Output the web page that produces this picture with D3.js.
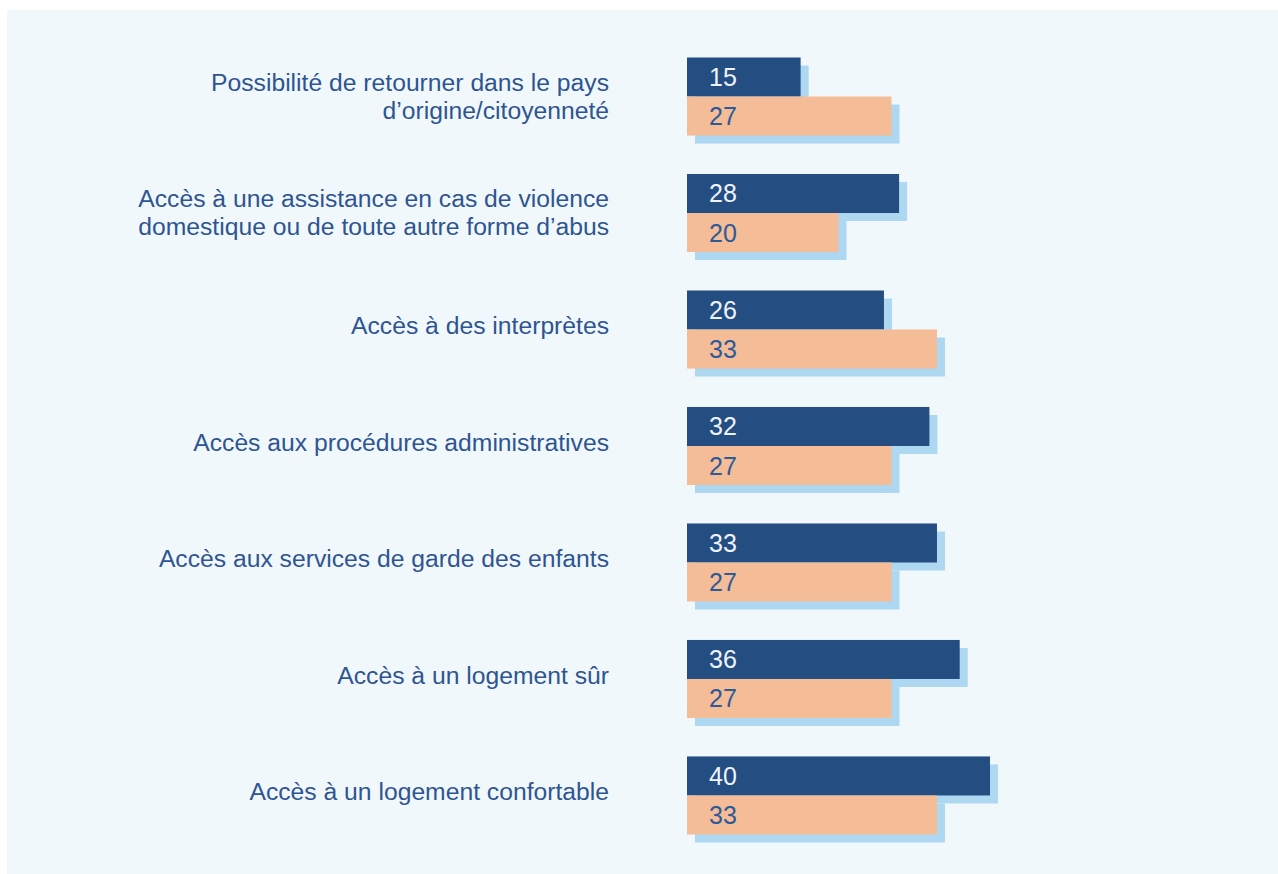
<!DOCTYPE html>
<html>
<head>
<meta charset="utf-8">
<script src="https://cdn.jsdelivr.net/npm/d3@7"></script>
<style>
  html, body { margin: 0; padding: 0; background: #fff; }
  svg { display: block; font-family: "Liberation Sans", Arial, sans-serif; }
</style>
</head>
<body>
<div id="chart"></div>
<script>
// categories (line breaks as in the original)
const categories = [
  "Possibilité de retourner dans le pays\nd’origine/citoyenneté",
  "Accès à une assistance en cas de violence\ndomestique ou de toute autre forme d’abus",
  "Accès à des interprètes",
  "Accès aux procédures administratives",
  "Accès aux services de garde des enfants",
  "Accès à un logement sûr",
  "Accès à un logement confortable"
];
const seriesKeys = ["dark", "light"];
const darkValues = [15, 28, 26, 32, 33, 36, 40];
const lightValues = [27, 20, 33, 27, 27, 27, 33];

const width = 1278, height = 874;

const data = categories.map((c, i) => ({cat: c, dark: darkValues[i], light: lightValues[i]}));

const colors = {dark: "#244d82", light: "#f4bc97"};
const textColors = {dark: "#eef3fa", light: "#2d5a98"};

const svg = d3.select("#chart")
  .append("svg")
    .attr("width", width)
    .attr("height", height);

// panel background
svg.append("rect")
  .attr("x", 7)
  .attr("y", 10)
  .attr("width", width - 7)
  .attr("height", height - 10)
  .attr("fill", "#f1f8fc");

// scales
const x = d3.scaleLinear([0, 40], [687, 990]);
const y = d3.scaleBand(categories, [57.5, 834.5]).paddingInner(0.33).paddingOuter(0);
const ys = d3.scaleBand(seriesKeys, [0, y.bandwidth()]);
const shadow = 8;

const groups = svg.append("g")
  .selectAll("g")
  .data(data)
  .join("g")
    .attr("transform", d => `translate(0,${y(d.cat)})`);

// shadows first so both bars sit above them
groups.selectAll("rect.shadow")
  .data(d => seriesKeys.map(k => ({key: k, value: d[k]})))
  .join("rect")
    .attr("class", "shadow")
    .attr("x", x(0) + shadow)
    .attr("y", d => ys(d.key) + shadow)
    .attr("width", d => x(d.value) - x(0))
    .attr("height", ys.bandwidth())
    .attr("fill", "#aed7f2");

groups.selectAll("rect.bar")
  .data(d => seriesKeys.map(k => ({key: k, value: d[k]})))
  .join("rect")
    .attr("class", "bar")
    .attr("x", x(0))
    .attr("y", d => ys(d.key))
    .attr("width", d => x(d.value) - x(0))
    .attr("height", ys.bandwidth())
    .attr("fill", d => colors[d.key]);

groups.selectAll("text.value")
  .data(d => seriesKeys.map(k => ({key: k, value: d[k]})))
  .join("text")
    .attr("class", "value")
    .attr("x", x(0) + 22)
    .attr("y", d => ys(d.key) + ys.bandwidth() / 2 + 9)
    .attr("font-size", 25)
    .attr("fill", d => textColors[d.key])
    .text(d => d.value);

// category labels, right aligned, roughly centred on the group
const lineHeight = 28;
groups.append("text")
  .attr("text-anchor", "end")
  .attr("font-size", 24.7)
  .attr("fill", "#2e5591")
  .each(function(d) {
    const lines = d.cat.split("\n");
    const mid = y.bandwidth() / 2 + (lines.length > 1 ? 8 : 5);
    d3.select(this).selectAll("tspan")
      .data(lines)
      .join("tspan")
        .attr("x", 609)
        .attr("y", (l, i) => mid + (i - (lines.length - 1) / 2) * lineHeight)
        .text(l => l);
  });
</script>
</body>
</html>
